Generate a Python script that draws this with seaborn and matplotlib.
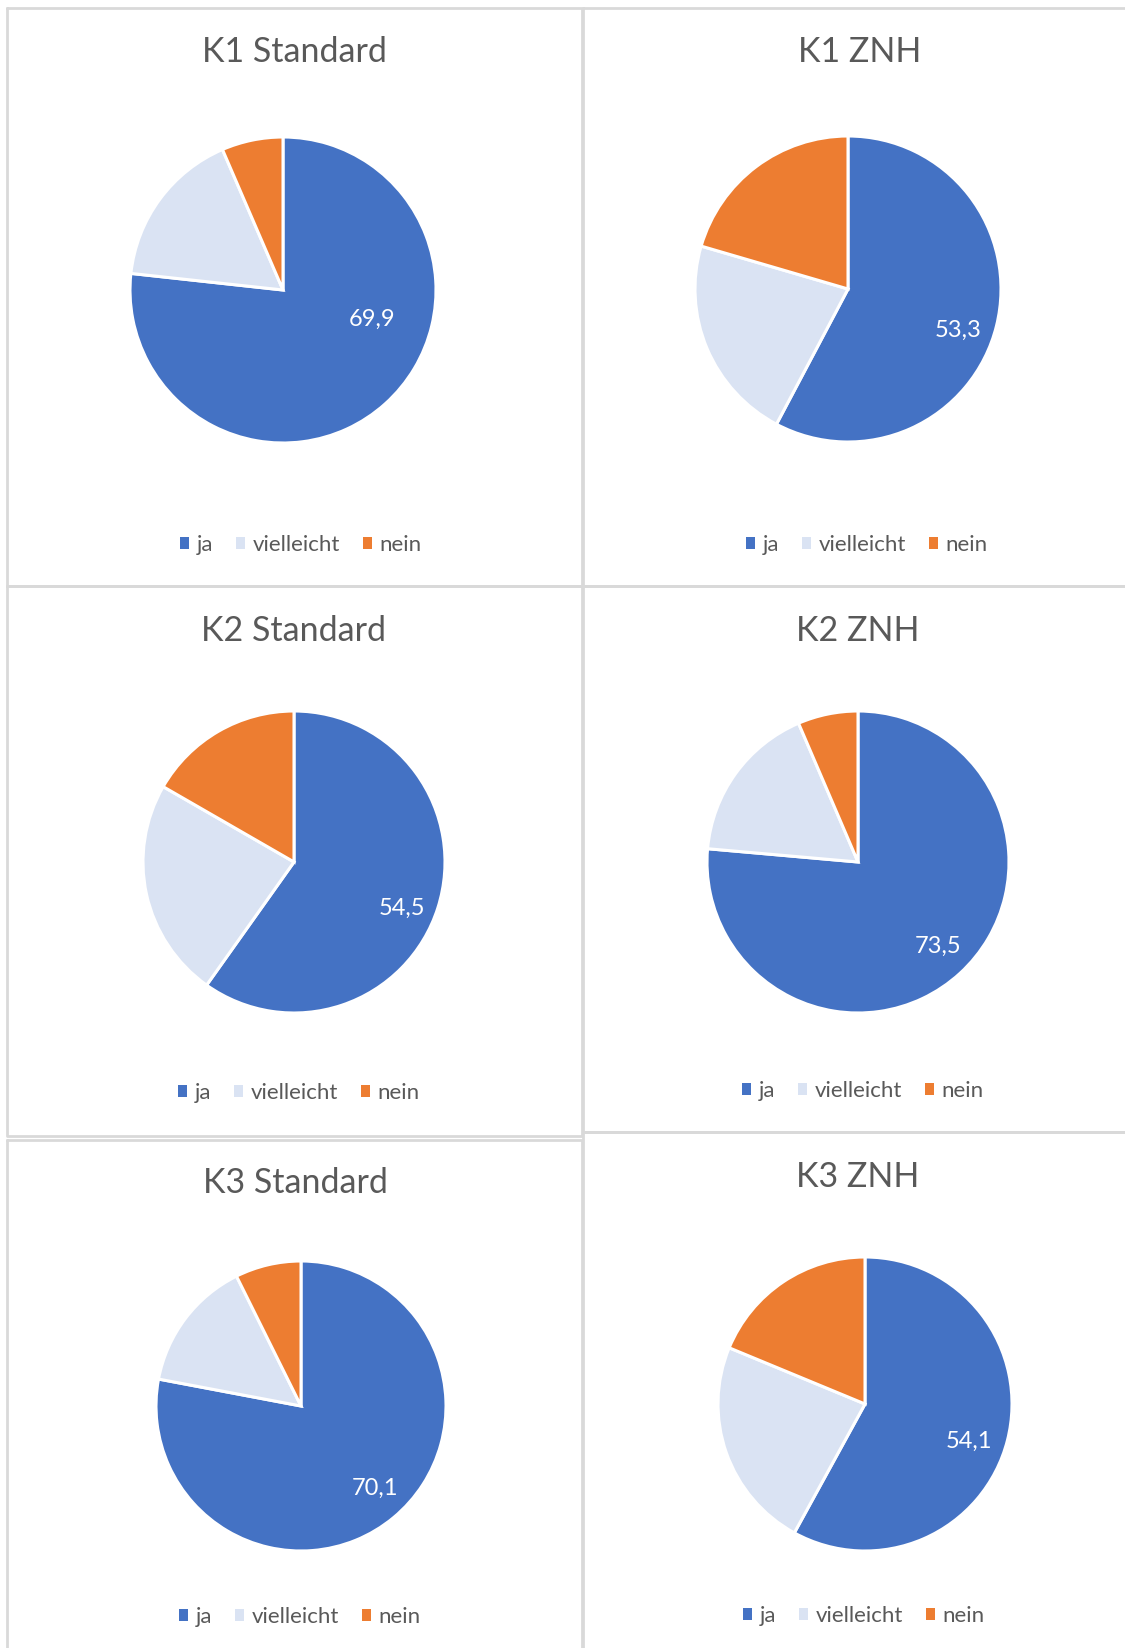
import matplotlib
matplotlib.use("Agg")
import matplotlib.pyplot as plt
from matplotlib.patches import Patch
from matplotlib.lines import Line2D
import numpy as np
import seaborn as sns

# Antworten je Gruppe (Anteile in %)
categories = ["ja", "vielleicht", "nein"]
titles = ["K1 Standard", "K1 ZNH", "K2 Standard", "K2 ZNH", "K3 Standard", "K3 ZNH"]
ja = [69.9, 53.3, 54.5, 73.5, 70.1, 54.1]
vielleicht = [15.3, 20.1, 21.4, 16.5, 13.2, 21.7]
nein = [5.9, 18.9, 15.2, 6.2, 6.6, 17.5]

sns.set_theme(style="white")
plt.rcParams["font.family"] = ["Lato", "DejaVu Sans"]
palette = sns.color_palette(["#4472C4", "#DAE3F3", "#ED7D31"])
text_color = "#595959"
border_color = "#D9D9D9"

W, H = 1125, 1648
fig = plt.figure(figsize=(W / 100, H / 100), dpi=100)
fig.patch.set_facecolor("white")


def fx(x):
    return x / W


def fy(y):
    return 1 - y / H


# chart frames (left, top, right, bottom in px)
frames = [
    (7, 8, 582, 586),
    (583, 8, 1135, 586),
    (7, 586, 582, 1136),
    (583, 586, 1135, 1132),
    (7, 1140, 582, 1660),
    (583, 1132, 1135, 1660),
]
for (l, t, r, b) in frames:
    xs = [fx(l), fx(r), fx(r), fx(l), fx(l)]
    ys = [fy(t), fy(t), fy(b), fy(b), fy(t)]
    fig.add_artist(Line2D(xs, ys, transform=fig.transFigure,
                          color=border_color, lw=2.0))

# layout per chart: pie centre/radius, title and legend centres (px)
pie_center = [(283, 290), (848, 289), (294, 862), (858, 862), (301, 1406), (865, 1404)]
pie_radius = [153, 153, 151, 151, 145, 147]
title_pos = [(294, 52), (860, 52), (294, 631), (858, 631), (295, 1183), (858, 1177)]
legend_pos = [(301, 545), (867, 545), (299, 1093), (863, 1091), (300, 1617), (864, 1616)]
label_shift = [30, -6.4, -5.4, 1.2, 2.2, -5.7]
label_dist = [0.61, 0.77, 0.78, 0.77, 0.76, 0.75]

handles = [Patch(facecolor=c, edgecolor="none") for c in palette]

for i, title in enumerate(titles):
    cx, cy = pie_center[i]
    r = pie_radius[i]
    ax = fig.add_axes([fx(cx - r), fy(cy + r), 2 * r / W, 2 * r / H])
    values = [ja[i], vielleicht[i], nein[i]]
    wedges, _ = ax.pie(values, colors=palette, startangle=90, counterclock=False,
                       radius=1.0,
                       wedgeprops=dict(edgecolor="white", linewidth=2.2))
    ax.set_xlim(-1.0, 1.0)
    ax.set_ylim(-1.0, 1.0)
    ax.set_aspect("equal")
    ax.axis("off")

    w = wedges[0]
    mid = np.deg2rad((w.theta1 + w.theta2) / 2 + label_shift[i])
    d = label_dist[i]
    ax.text(d * np.cos(mid), d * np.sin(mid), f"{ja[i]:.1f}".replace(".", ","),
            color="white", fontsize=17, ha="center", va="center")

    tx, ty = title_pos[i]
    fig.text(fx(tx), fy(ty), title, color=text_color, fontsize=24.5,
             ha="center", va="center")

    lx, ly = legend_pos[i]
    fig.legend(handles, categories, loc="center", bbox_to_anchor=(fx(lx), fy(ly)),
               ncol=3, frameon=False, fontsize=16, labelcolor=text_color,
               handlelength=0.42, handleheight=0.42, handletextpad=0.35,
               columnspacing=1.0, borderpad=0, borderaxespad=0)

fig.savefig("out.png", dpi=100, facecolor="white")
